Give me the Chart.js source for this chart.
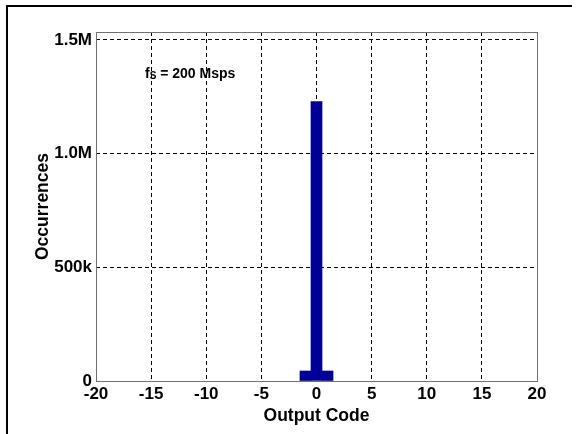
<!DOCTYPE html>
<html>
<head>
<meta charset="utf-8">
<script src="https://cdn.jsdelivr.net/npm/chart.js@4.4.1/dist/chart.umd.min.js"></script>
<style>
  html, body { margin: 0; padding: 0; background: #fff; }
  canvas { display: block; }
</style>
</head>
<body>
<canvas id="histChart" width="577" height="434"></canvas>
<script>
// histogram data
const codes = [-1, 0, 1];
const occurrences = [44000, 1229000, 44000];
const xTicks = [-20, -15, -10, -5, 0, 5, 10, 15, 20];
const yTicks = [0, 500000, 1000000, 1500000];
const yTickLabels = ["0", "500k", "1.0M", "1.5M"];

const FONT = "'Liberation Sans', Arial, sans-serif";

// figure frame (left + top lines), axes box and the fs note
const frame = {
  id: "frame",
  beforeDraw(chart) {
    const ctx = chart.ctx;
    ctx.save();
    ctx.fillStyle = "#fff";
    ctx.fillRect(0, 0, chart.width, chart.height);
    ctx.restore();
  },
  afterDraw(chart) {
    const ctx = chart.ctx, a = chart.chartArea;
    ctx.save();
    ctx.strokeStyle = "#000";
    ctx.lineWidth = 2;
    ctx.beginPath();
    ctx.moveTo(7, 434);
    ctx.lineTo(7, 6);
    ctx.lineTo(572, 6);
    ctx.stroke();

    ctx.strokeStyle = "#707070";
    ctx.lineWidth = 1;
    ctx.strokeRect(Math.round(a.left) + 0.5, Math.round(a.top) + 0.5,
      Math.round(a.right - a.left), Math.round(a.bottom - a.top));

    ctx.fillStyle = "#000";
    ctx.textBaseline = "alphabetic";
    ctx.font = "bold 14px " + FONT;
    let x = 145, y = 78;
    ctx.fillText("f", x, y);
    x += ctx.measureText("f").width;
    ctx.font = "bold 10px " + FONT;
    ctx.fillText("S", x, y + 1);
    x += ctx.measureText("S").width;
    ctx.font = "bold 14px " + FONT;
    ctx.fillText(" = 200 Msps", x, y);
    ctx.restore();
  }
};

const gridColor = (ctx, edges) => {
  const v = ctx.tick ? ctx.tick.value : null;
  return edges.includes(v) ? "rgba(0,0,0,0)" : "#000";
};

new Chart(document.getElementById("histChart").getContext("2d"), {
  type: "bar",
  data: {
    datasets: [{
      data: codes.map((c, i) => ({ x: c, y: occurrences[i] })),
      backgroundColor: "#000099",
      borderWidth: 0,
      barPercentage: 1.0,
      categoryPercentage: 1.0
    }]
  },
  options: {
    responsive: false,
    animation: false,
    layout: { padding: { left: 33, top: 32, right: 40, bottom: 0 } },
    plugins: { legend: { display: false }, tooltip: { enabled: false } },
    scales: {
      x: {
        type: "linear",
        min: -20,
        max: 20,
        offset: false,
        afterBuildTicks: s => { s.ticks = xTicks.map(v => ({ value: v })); },
        afterFit: s => { s.height = 53; },
        grid: {
          offset: false,
          drawTicks: false,
          color: c => gridColor(c, [-20, 20]),
          lineWidth: 1
        },
        border: { display: false, dash: [4, 3] },
        ticks: {
          color: "#000",
          padding: 3,
          font: { family: FONT, size: 17, weight: "bold" },
          maxRotation: 0
        },
        title: {
          display: true,
          text: "Output Code",
          color: "#000",
          font: { family: FONT, size: 17.5, weight: "bold" },
          padding: { top: 0, bottom: 7 }
        }
      },
      y: {
        min: 0,
        max: 1535000,
        afterBuildTicks: s => { s.ticks = yTicks.map(v => ({ value: v })); },
        afterFit: s => { s.width = 63; },
        grid: {
          drawTicks: false,
          color: c => gridColor(c, [0]),
          lineWidth: 1
        },
        border: { display: false, dash: [4, 3] },
        ticks: {
          color: "#000",
          padding: 4,
          font: { family: FONT, size: 17, weight: "bold" },
          callback: v => yTickLabels[yTicks.indexOf(v)]
        },
        title: {
          display: true,
          text: "Occurrences",
          color: "#000",
          font: { family: FONT, size: 17.5, weight: "bold" },
          padding: { top: 0, bottom: 0 }
        }
      }
    }
  },
  plugins: [frame]
});
</script>
</body>
</html>
